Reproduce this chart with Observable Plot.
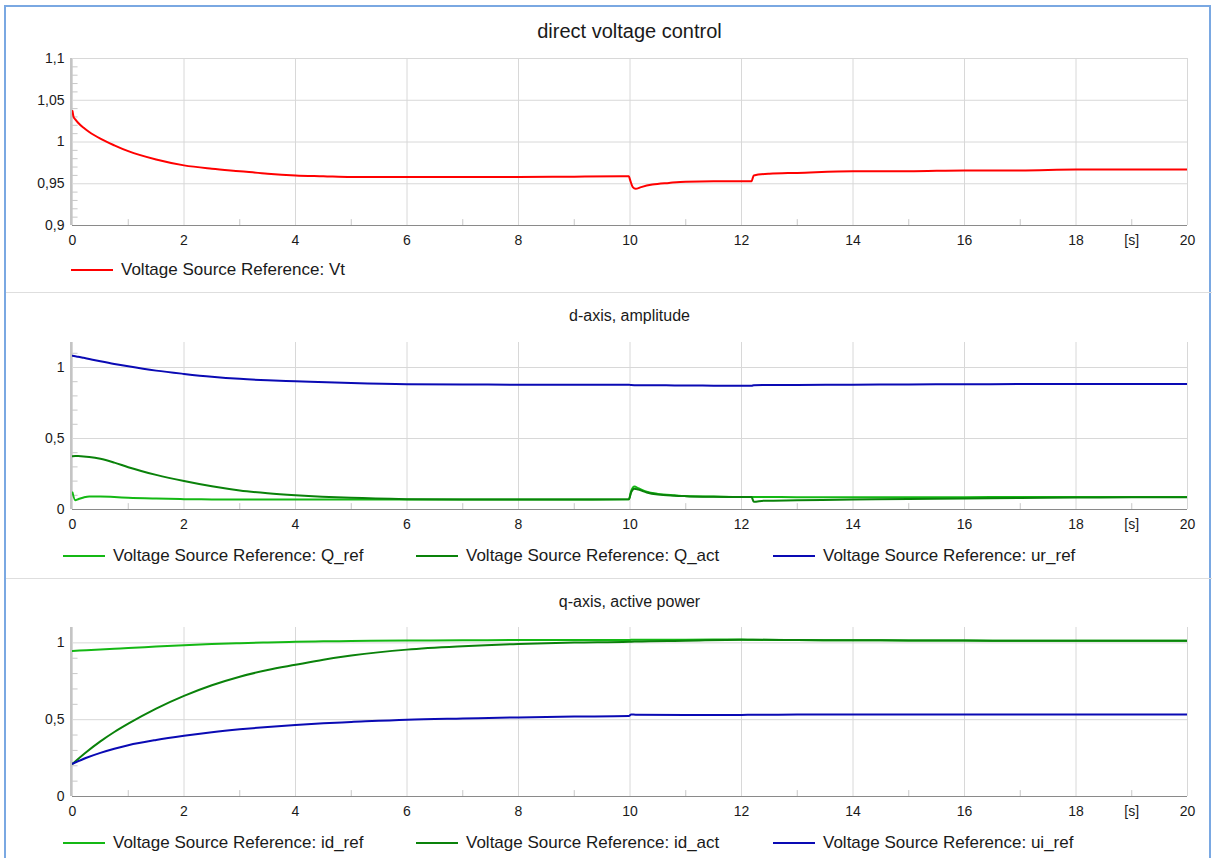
<!DOCTYPE html>
<html>
<head>
<meta charset="utf-8">
<script src="https://cdn.jsdelivr.net/npm/d3@7"></script>
<script src="https://cdn.jsdelivr.net/npm/@observablehq/plot@0.6"></script>
<style>
  html, body { margin: 0; padding: 0; background: #fff; }
  body { font-family: "Liberation Sans", Arial, sans-serif; color: #1a1a1a; }
  #root { position: relative; width: 1215px; height: 858px; overflow: hidden; background: #fff; }
  .abs { position: absolute; }
  .title { position: absolute; left: 72px; width: 1115px; text-align: center; white-space: nowrap; }
  .sep { position: absolute; left: 6px; width: 1206px; height: 1px; background: #dedede; }
  .leg { position: absolute; font-size: 17px; white-space: nowrap; line-height: 20px; }
  .leg .sw { position: absolute; top: 9px; width: 42px; height: 2px; }
  .leg .tx { position: absolute; top: 0; }
</style>
</head>
<body>
<div id="root"></div>
<script>
// ---------------- DATA ----------------
// x axis
const xMajor = [0, 2, 4, 6, 8, 10, 12, 14, 16, 18, 20];
const xLabels = [0, 2, 4, 6, 8, 10, 12, 14, 16, 18, 19, 20]; // 19 shows "[s]"
const xMinor = [1, 3, 5, 7, 9, 11, 13, 15, 17, 19];

// panel 1: direct voltage control
const tVt = [0, 0.02, 0.05, 0.1, 0.2, 0.3, 0.5, 0.75, 1, 1.5, 2, 2.5, 3, 3.5, 4, 4.5, 5, 6, 7, 8, 9, 9.98, 10.0, 10.05, 10.1, 10.2, 10.4, 10.7, 11, 11.5, 12.0, 12.18, 12.22, 12.5, 13, 14, 15, 16, 17, 18, 19, 20];
const Vt  = [1.037, 1.030, 1.027, 1.023, 1.017, 1.012, 1.004, 0.996, 0.989, 0.979, 0.972, 0.968, 0.965, 0.962, 0.960, 0.959, 0.958, 0.958, 0.958, 0.958, 0.9585, 0.959, 0.955, 0.946, 0.944, 0.946, 0.949, 0.951, 0.9525, 0.953, 0.953, 0.953, 0.960, 0.962, 0.963, 0.965, 0.965, 0.966, 0.966, 0.967, 0.967, 0.967];
const y1Ticks = [0.9, 0.95, 1, 1.05, 1.1];

// panel 2: d-axis, amplitude
const tD = [0, 0.05, 0.1, 0.2, 0.3, 0.5, 0.75, 1, 1.5, 2, 2.5, 3, 3.5, 4, 5, 6, 7, 8, 9, 9.98, 10.02, 10.08, 10.15, 10.3, 10.5, 10.8, 11, 11.5, 12, 12.18, 12.22, 12.4, 13, 14, 15, 16, 17, 18, 19, 20];
const Q_ref  = [0.12, 0.065, 0.072, 0.085, 0.092, 0.092, 0.088, 0.083, 0.077, 0.073, 0.071, 0.070, 0.070, 0.070, 0.070, 0.070, 0.070, 0.070, 0.070, 0.072, 0.130, 0.162, 0.150, 0.125, 0.110, 0.100, 0.095, 0.091, 0.088, 0.088, 0.088, 0.088, 0.087, 0.087, 0.086, 0.087, 0.088, 0.088, 0.088, 0.088];
const Q_act  = [0.375, 0.376, 0.376, 0.374, 0.370, 0.357, 0.330, 0.298, 0.244, 0.200, 0.163, 0.134, 0.115, 0.101, 0.082, 0.073, 0.070, 0.070, 0.070, 0.072, 0.120, 0.146, 0.140, 0.120, 0.105, 0.097, 0.094, 0.090, 0.088, 0.088, 0.054, 0.062, 0.065, 0.070, 0.074, 0.078, 0.081, 0.084, 0.086, 0.087];
const ur_ref = [1.082, 1.079, 1.076, 1.068, 1.060, 1.044, 1.025, 1.008, 0.978, 0.955, 0.935, 0.920, 0.910, 0.903, 0.890, 0.882, 0.880, 0.879, 0.879, 0.879, 0.876, 0.875, 0.875, 0.875, 0.875, 0.874, 0.874, 0.872, 0.871, 0.871, 0.875, 0.876, 0.877, 0.879, 0.881, 0.882, 0.883, 0.883, 0.884, 0.884];
const y2Ticks = [0, 0.5, 1];

// panel 3: q-axis, active power
const tQ = [0, 0.25, 0.5, 0.75, 1, 1.5, 2, 2.5, 3, 3.5, 4, 4.5, 5, 6, 7, 8, 9, 9.98, 10.02, 10.1, 11, 12, 12.2, 13, 14, 15, 16, 17, 18, 19, 20];
const id_ref = [0.947, 0.952, 0.957, 0.962, 0.966, 0.976, 0.985, 0.992, 0.998, 1.003, 1.007, 1.010, 1.012, 1.015, 1.017, 1.018, 1.018, 1.018, 1.020, 1.021, 1.021, 1.022, 1.020, 1.018, 1.017, 1.016, 1.015, 1.014, 1.013, 1.013, 1.013];
const id_act = [0.213, 0.290, 0.359, 0.420, 0.474, 0.572, 0.655, 0.724, 0.780, 0.823, 0.857, 0.890, 0.917, 0.956, 0.978, 0.993, 1.002, 1.007, 1.008, 1.009, 1.014, 1.020, 1.020, 1.018, 1.017, 1.016, 1.015, 1.014, 1.013, 1.013, 1.013];
const ui_ref = [0.213, 0.252, 0.284, 0.311, 0.334, 0.368, 0.395, 0.418, 0.437, 0.453, 0.466, 0.477, 0.485, 0.500, 0.508, 0.515, 0.520, 0.524, 0.534, 0.532, 0.531, 0.531, 0.532, 0.533, 0.533, 0.533, 0.533, 0.533, 0.534, 0.534, 0.534];
const y3Ticks = [0, 0.5, 1];

// colours
const RED = "#ff0000", LGREEN = "#14b814", DGREEN = "#0a820a", BLUE = "#0a0ab4";

// ---------------- LAYOUT ----------------
const root = document.getElementById("root");
const FONT = "'Liberation Sans', Arial, sans-serif";
const comma = d => String(d).replace(".", ",");

function pts(t, v) { return t.map((x, i) => ({t: x, v: v[i]})); }

function panel({top, innerH, yDomain, yTicks, yMinor, series}) {
  const mt = 10, mb = 32;
  const y0 = yDomain[0], yr = yDomain[1] - yDomain[0];
  const chart = Plot.plot({
    width: 1215,
    height: mt + innerH + mb,
    marginLeft: 72, marginRight: 28, marginTop: mt, marginBottom: mb,
    x: {domain: [0, 20], label: null},
    y: {domain: yDomain, label: null},
    style: {fontFamily: FONT, fontSize: "14px", color: "#1a1a1a", background: "transparent", overflow: "visible"},
    marks: [
      Plot.gridX(xMajor, {stroke: "#d8d8d8", strokeOpacity: 1}),
      Plot.gridY(yTicks, {stroke: "#d8d8d8", strokeOpacity: 1}),
      Plot.ruleX(xMinor, {x: d => d, y1: y0, y2: y0 + yr * 0.035, stroke: "#c8c8c8"}),
      Plot.ruleY(yMinor, {y: d => d, x1: 0, x2: 0.1, stroke: "#c8c8c8"}),
      Plot.ruleY([y0], {stroke: "#8a8a8a"}),
      Plot.ruleX([0], {stroke: "#8a8a8a", dx: -1.5}),
      ...series.map(s => Plot.line(pts(s.t, s.v), {x: "t", y: "v", stroke: s.color, strokeWidth: 2, curve: "monotone-x", clip: true})),
      Plot.axisX(xLabels, {tickSize: 0, tickPadding: 10, tickFormat: d => d === 19 ? "[s]" : d, fontSize: 14, label: null}),
      Plot.axisY(yTicks, {tickSize: 0, tickPadding: 8, tickFormat: comma, fontSize: 14, label: null})
    ]
  });
  chart.style.position = "absolute";
  chart.style.left = "0px";
  chart.style.top = (top - mt) + "px";
  root.appendChild(chart);
}

function addTitle(text, top, size) {
  const d = document.createElement("div");
  d.className = "title";
  d.style.top = top + "px";
  d.style.fontSize = size + "px";
  d.textContent = text;
  root.appendChild(d);
}

function addLegend(items, top) {
  items.forEach(it => {
    const g = document.createElement("div");
    g.className = "leg";
    g.style.left = it.x + "px";
    g.style.top = (top - 10) + "px";
    const sw = document.createElement("div");
    sw.className = "sw"; sw.style.left = "0px"; sw.style.background = it.color;
    const tx = document.createElement("div");
    tx.className = "tx"; tx.style.left = "50px"; tx.textContent = it.label;
    g.appendChild(sw); g.appendChild(tx);
    root.appendChild(g);
  });
}

// border
const border = document.createElement("div");
border.className = "abs";
Object.assign(border.style, {left: "4px", top: "5px", width: "1207px", height: "900px", border: "2px solid #7aa8e2", boxSizing: "border-box"});
root.appendChild(border);

// separators
[292, 578].forEach(y => { const s = document.createElement("div"); s.className = "sep"; s.style.top = y + "px"; root.appendChild(s); });

// panel 1
addTitle("direct voltage control", 20, 20);
panel({top: 58, innerH: 167, yDomain: [0.9, 1.1], yTicks: y1Ticks,
  yMinor: d3.range(0.91, 1.1, 0.01).map(v => +v.toFixed(2)).filter(v => !y1Ticks.includes(v)),
  series: [{t: tVt, v: Vt, color: RED}]});
addLegend([{x: 71, color: RED, label: "Voltage Source Reference: Vt"}], 270);

// panel 2
addTitle("d-axis, amplitude", 307, 16);
panel({top: 342, innerH: 167, yDomain: [0, 1.176], yTicks: y2Ticks,
  yMinor: [0.1, 0.2, 0.3, 0.4, 0.6, 0.7, 0.8, 0.9, 1.1],
  series: [{t: tD, v: Q_ref, color: LGREEN}, {t: tD, v: Q_act, color: DGREEN}, {t: tD, v: ur_ref, color: BLUE}]});
addLegend([
  {x: 63, color: LGREEN, label: "Voltage Source Reference: Q_ref"},
  {x: 416, color: DGREEN, label: "Voltage Source Reference: Q_act"},
  {x: 773, color: BLUE, label: "Voltage Source Reference: ur_ref"}
], 556);

// panel 3
addTitle("q-axis, active power", 593, 16);
panel({top: 627, innerH: 169, yDomain: [0, 1.1], yTicks: y3Ticks,
  yMinor: [0.1, 0.2, 0.3, 0.4, 0.6, 0.7, 0.8, 0.9],
  series: [{t: tQ, v: id_ref, color: LGREEN}, {t: tQ, v: id_act, color: DGREEN}, {t: tQ, v: ui_ref, color: BLUE}]});
addLegend([
  {x: 63, color: LGREEN, label: "Voltage Source Reference: id_ref"},
  {x: 416, color: DGREEN, label: "Voltage Source Reference: id_act"},
  {x: 773, color: BLUE, label: "Voltage Source Reference: ui_ref"}
], 843);
</script>
</body>
</html>
